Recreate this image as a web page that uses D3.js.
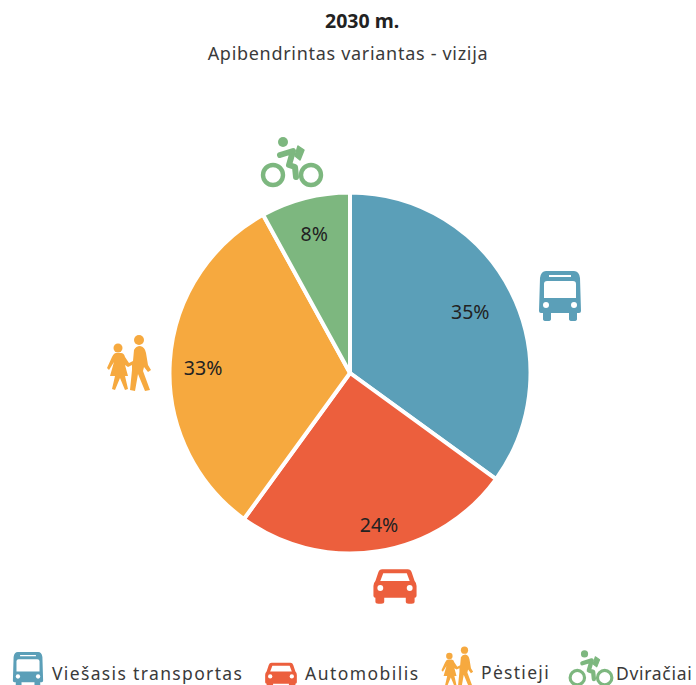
<!DOCTYPE html>
<html>

<head>
    <meta charset="utf-8">
    <style>
        html, body {
            margin: 0;
            padding: 0;
            background: #fff;
        }

        text {
            font-family: "Noto Sans", sans-serif;
            fill: #3a3a3a;
        }
    </style>
</head>

<body>
    <div id="chart"></div>
    <script src="https://d3js.org/d3.v7.min.js"></script>
    <script>

        const categories = ["Viešasis transportas", "Automobilis", "Pėstieji", "Dviračiai"]
        // printed numbers, and the slice sizes (they differ by 1)
        const labelled = [35, 24, 33, 8]
        const drawn = [35, 25, 32, 8]

        const colors = ["#5b9fb8", "#ec5f3d", "#f6a93f", "#7db77f"]
        const iconNames = ["bus", "car", "people", "bike"]

        const width = 696
        const height = 685
        const cx = 350
        const cy = 373
        const radius = 180.5

        // labels do not sit on one radius in the original
        const labelRadius = [135, 155, 147, 144]
        const bigIcons = [[560, 296, 1], [395, 586, 0.98], [130, 362, 1], [292, 163, 1]]
        const legendIcons = [[28, 670, 0.72], [281, 675, 0.72], [458, 666, 0.72], [591, 669, 0.72]]
        const legendText = [[52, 680, 1.35], [305, 680, 1.45], [481, 679, 1.3], [616, 680, 0.7]]

        let svg = d3.select("#chart")
            .append("svg")
            .attr("width", width)
            .attr("height", height)
            .style("display", "block")

        svg.append("text")
            .attr("x", 325)
            .attr("y", 28)
            .attr("font-size", 19.5)
            .attr("font-weight", 700)
            .style("fill", "#222")
            .text("2030 m.")

        svg.append("text")
            .attr("x", 348)
            .attr("y", 60)
            .attr("text-anchor", "middle")
            .attr("font-size", 18)
            .attr("letter-spacing", 0.7)
            .text("Apibendrintas variantas - vizija")

        const arc = d3.arc().innerRadius(0).outerRadius(radius)

        let g = svg.append("g").attr("transform", `translate(${cx},${cy})`)

        g.selectAll("path")
            .data(d3.pie().sort(null)(drawn))
            .enter().append("path")
            .attr("d", arc)
            .attr("fill", (d, i) => colors[i])
            .attr("stroke", "#fff")
            .attr("stroke-width", 4)
            .attr("stroke-linejoin", "round")

        g.selectAll("text")
            .data(d3.pie().sort(null)(labelled))
            .enter().append("text")
            .attr("transform", (d, i) => {
                const c = d3.arc().innerRadius(labelRadius[i]).outerRadius(labelRadius[i]).centroid(d)
                return `translate(${c})`
            })
            .attr("text-anchor", "middle")
            .attr("dy", "0.36em")
            .attr("font-size", 19.5)
            .style("fill", "#222")
            .text(d => d.data + "%")

        // icons are drawn around 0,0 at their big size
        function bus(sel, c) {
            sel.append("path")
                .attr("fill", c)
                .attr("fill-rule", "evenodd")
                .attr("d", "M-14,-25 H14 Q19,-25 20,-18 L21,15 Q21,17 19,17 H17 V23 Q17,25 14,25 H12 Q9,25 9,23 V17 H-9 V23 Q-9,25 -12,25 H-14 Q-17,25 -17,23 V17 H-19 Q-21,17 -21,15 L-20,-18 Q-19,-25 -14,-25 Z M-11,-21 V-19 H11 V-21 Z M-13,-15 Q-16,-15 -16,-12 V2 H16 V-12 Q16,-15 13,-15 Z")
            sel.selectAll("circle").data([-14, 14]).enter().append("circle")
                .attr("cx", d => d).attr("cy", 9).attr("r", 3).attr("fill", "#fff")
        }

        function car(sel, c) {
            sel.append("path")
                .attr("fill", c)
                .attr("fill-rule", "evenodd")
                .attr("d", "M-13,-17 H13 Q16,-17 17,-14 L20,-5 Q22,-3 22,0 V10 Q22,12 20,12 V16 Q20,18 17,18 H14 Q11,18 11,16 V12 H-11 V16 Q-11,18 -14,18 H-17 Q-20,18 -20,16 V12 Q-22,12 -22,10 V0 Q-22,-3 -20,-5 L-17,-14 Q-16,-17 -13,-17 Z M-12,-13 L-15,-5 H15 L12,-13 Z")
            sel.selectAll("circle").data([-15, 15]).enter().append("circle")
                .attr("cx", d => d).attr("cy", 2).attr("r", 3).attr("fill", "#fff")
        }

        function people(sel, c) {
            sel.append("circle").attr("cx", -12).attr("cy", -14).attr("r", 4.5).attr("fill", c)
            sel.append("circle").attr("cx", 9).attr("cy", -22).attr("r", 5).attr("fill", c)
            sel.append("path")
                .attr("fill", c)
                .attr("d", "M-14,-9 H-9 Q-6,-9 -5,-5 L-1,1 L3,-1 L4,-12 Q6,-16 10,-16 Q15,-15 16,-9 L18,3 L21,8 L18,10 L14,5 L13,9 L20,28 L15,29 L8,12 L5,29 L0,28 L2,8 L2,3 L-2,5 L-5,3 L-2,14 H-5 L-2,27 L-5,28 L-10,16 L-15,28 L-18,27 L-15,14 H-20 L-16,0 L-21,8 L-23,6 L-18,-5 Q-16,-9 -14,-9 Z")
        }

        function bike(sel, c) {
            sel.selectAll("circle.w").data([-19, 19]).enter().append("circle")
                .attr("class", "w")
                .attr("cx", d => d).attr("cy", 12).attr("r", 10)
                .attr("fill", "none").attr("stroke", c).attr("stroke-width", 4.4)
            sel.append("circle").attr("cx", -9).attr("cy", -21).attr("r", 5).attr("fill", c)
            sel.append("path")
                .attr("fill", "none").attr("stroke", c).attr("stroke-width", 6)
                .attr("stroke-linecap", "round").attr("stroke-linejoin", "round")
                .attr("d", "M-12,-8 L1,-12 L-3,2 L3,4 L4,14")
            sel.append("path")
                .attr("fill", c)
                .attr("stroke", c)
                .attr("stroke-width", 1.5)
                .attr("stroke-linejoin", "round")
                .attr("d", "M6,-17 L12,-13 L8,-3 L3,-7 Z")
        }

        const iconFns = { bus, car, people, bike }

        function putIcon(spec, name, c) {
            svg.append("g")
                .attr("transform", `translate(${spec[0]},${spec[1]}) scale(${spec[2]})`)
                .call(iconFns[name], c)
        }

        iconNames.forEach((name, i) => {
            putIcon(bigIcons[i], name, colors[i])
            putIcon(legendIcons[i], name, colors[i])
        })

        categories.forEach((name, i) => {
            svg.append("text")
                .attr("x", legendText[i][0])
                .attr("y", legendText[i][1])
                .attr("font-size", 17.5)
                .attr("letter-spacing", legendText[i][2])
                .text(name)
        })

    </script>
</body>

</html>
